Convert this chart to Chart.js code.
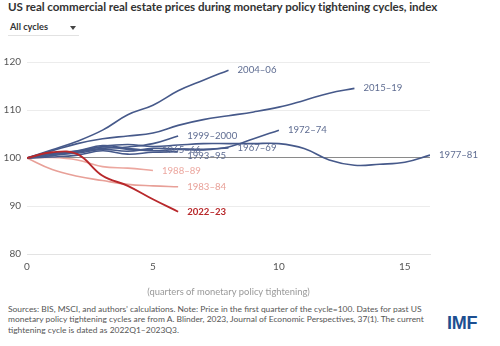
<!DOCTYPE html>
<html>
<head>
<meta charset="utf-8">
<script src="https://cdn.jsdelivr.net/npm/chart.js@4"></script>
<style>
  html, body { margin: 0; padding: 0; background: #fff; }
  body { width: 500px; height: 346px; position: relative; overflow: hidden; font-family: Lato, "Open Sans", sans-serif; }
  #title { position: absolute; left: 8px; top: 0px; font-size: 11.6px; font-weight: 700; color: #333; white-space: nowrap; letter-spacing: -0.05px; }
  #picker { position: absolute; left: 8px; top: 21px; width: 71px; height: 14px; border-bottom: 1px solid #e2e2e2; }
  #picker span { position: absolute; left: 2px; top: 0; font-size: 9.2px; font-weight: 700; color: #333; }
  #picker i { position: absolute; left: 62px; top: 5px; width: 0; height: 0; border-left: 3px solid transparent; border-right: 3px solid transparent; border-top: 4px solid #444; }
  #wrap { position: absolute; left: 0; top: 50px; width: 500px; height: 248px; }
  #note { position: absolute; left: 8px; top: 304px; width: 428px; font-size: 8.45px; line-height: 10.4px; color: #555; }
  #logo { position: absolute; left: 447px; top: 313px; font-family: "Liberation Sans", Arial, sans-serif; font-size: 18px; font-weight: 700; color: #1d4f91; letter-spacing: -0.3px; }
</style>
</head>
<body>
<div id="title">US real commercial real estate prices during monetary policy tightening cycles, index</div>
<div id="picker"><span>All cycles</span><i></i></div>
<div id="wrap"><canvas id="chart"></canvas></div>
<div id="note">Sources: BIS, MSCI, and authors’ calculations. Note: Price in the first quarter of the cycle=100. Dates for past US monetary policy tightening cycles are from A. Blinder, 2023, Journal of Economic Perspectives, 37(1). The current tightening cycle is dated as 2022Q1–2023Q3.</div>
<div id="logo">IMF</div>
<script>
// Quarters since the start of each tightening cycle
const quarters = [0, 1, 2, 3, 4, 5, 6, 7, 8, 9, 10, 11, 12, 13, 14, 15, 16];
const yTicks = [80, 90, 100, 110, 120];
const xTicks = [0, 5, 10, 15];

// Index values (first quarter of cycle = 100)
const cycle1965 = [100, 100.5, 101.2, 102.3, 101.8, 101.7];
const cycle1967 = [100, 100.8, 101.0, 101.8, 101.4, 102.0, 101.9, 101.8, 102.1];
const cycle1972 = [100, 101.0, 101.5, 102.6, 102.0, 101.5, 101.8, 101.7, 102.3, 104.0, 105.8];
const cycle1977 = [100, 101.0, 101.4, 102.4, 102.8, 102.4, 102.7, 103.0, 103.0, 103.0, 103.0, 102.0, 99.6, 98.5, 98.7, 99.1, 100.6];
const cycle1983 = [100, 97.6, 96.2, 95.3, 94.5, 94.2, 94.0];
const cycle1988 = [100, 100.1, 99.6, 98.2, 97.9, 97.4];
const cycle1993 = [100, 100.2, 100.6, 101.5, 100.8, 101.2, 101.3];
const cycle1999 = [100, 100.8, 101.3, 102.0, 102.3, 103.0, 104.6];
const cycle2004 = [100, 101.7, 103.5, 105.8, 109.0, 111.0, 114.0, 116.2, 118.3];
const cycle2015 = [100, 101.5, 103.0, 104.0, 104.6, 105.2, 106.8, 108.0, 108.8, 109.6, 110.6, 112.0, 113.5, 114.5];
const cycle2022 = [100, 101.2, 100.8, 96.3, 94.2, 91.4, 88.8];

const BLUE = '#46598a', BLUE_TXT = '#5f6d92';
const PINK = '#e8a098', PINK2 = '#eca79f';
const RED = '#b8282b';

const series = [
  { label: '1965–66', data: cycle1965, color: BLUE, text: BLUE_TXT, dy: 0 },
  { label: '1967–69', data: cycle1967, color: BLUE, text: BLUE_TXT, dy: 0 },
  { label: '1972–74', data: cycle1972, color: BLUE, text: BLUE_TXT, dy: 0 },
  { label: '1977–81', data: cycle1977, color: BLUE, text: BLUE_TXT, dy: 0 },
  { label: '1993–95', data: cycle1993, color: BLUE, text: BLUE_TXT, dy: 4 },
  { label: '1999–2000', data: cycle1999, color: BLUE, text: BLUE_TXT, dy: 0 },
  { label: '2004–06', data: cycle2004, color: BLUE, text: BLUE_TXT, dy: 0 },
  { label: '2015–19', data: cycle2015, color: BLUE, text: BLUE_TXT, dy: 0 },
  { label: '1983–84', data: cycle1983, color: PINK, text: PINK, dy: 0 },
  { label: '1988–89', data: cycle1988, color: PINK2, text: PINK2, dy: 0 },
  { label: '2022–23', data: cycle2022, color: RED, text: RED, dy: 0, bold: true }
];

// Writes each cycle's name just right of its last point
const endLabels = {
  id: 'endLabels',
  afterDatasetsDraw(chart) {
    const ctx = chart.ctx;
    ctx.save();
    ctx.textBaseline = 'middle';
    ctx.textAlign = 'left';
    chart.data.datasets.forEach((ds, i) => {
      const pts = chart.getDatasetMeta(i).data;
      const last = pts[pts.length - 1];
      ctx.font = (ds.bold ? '700 ' : '400 ') + '9.6px Lato, sans-serif';
      ctx.fillStyle = ds.textColor;
      ctx.fillText(ds.label, last.x + 9, last.y + ds.dy);
    });
    ctx.restore();
  }
};

new Chart(document.getElementById('chart'), {
  type: 'line',
  data: {
    datasets: series.map(s => ({
      label: s.label,
      data: s.data.map((v, i) => ({ x: quarters[i], y: v })),
      borderColor: s.color,
      backgroundColor: s.color,
      borderWidth: s.bold ? 1.9 : 1.6,
      pointRadius: 0,
      tension: 0.4,
      textColor: s.text,
      dy: s.dy,
      bold: !!s.bold,
      order: s.bold ? 0 : 1
    }))
  },
  options: {
    responsive: true,
    maintainAspectRatio: false,
    animation: false,
    layout: { padding: { top: 12, right: 70, left: 0, bottom: 0 } },
    plugins: { legend: { display: false }, tooltip: { enabled: false } },
    scales: {
      x: {
        type: 'linear',
        min: 0, max: 16,
        afterBuildTicks: s => { s.ticks = xTicks.map(v => ({ value: v })); },
        afterFit: s => { s.height = 44; },
        grid: { display: false, drawTicks: true, tickLength: 4, tickColor: '#d8d8d8' },
        border: { display: true, color: '#e3e3e3', width: 1 },
        ticks: { color: '#555', font: { family: 'Lato', size: 10 }, padding: 3, maxRotation: 0 },
        title: { display: true, text: '(quarters of monetary policy tightening)', color: '#999', font: { family: 'Lato', size: 9.4 }, padding: { top: 6, bottom: 0 } }
      },
      y: {
        min: 80, max: 120,
        afterBuildTicks: s => { s.ticks = yTicks.map(v => ({ value: v })); },
        afterFit: s => { s.width = 27; },
        grid: {
          drawTicks: false,
          color: c => c.tick && c.tick.value === 100 ? '#8a8a8a' : '#ececec',
          lineWidth: c => c.tick && c.tick.value === 100 ? 1.1 : 1
        },
        border: { display: false },
        ticks: { color: '#555', font: { family: 'Lato', size: 10 }, padding: 6 }
      }
    }
  },
  plugins: [endLabels]
});
</script>
</body>
</html>
